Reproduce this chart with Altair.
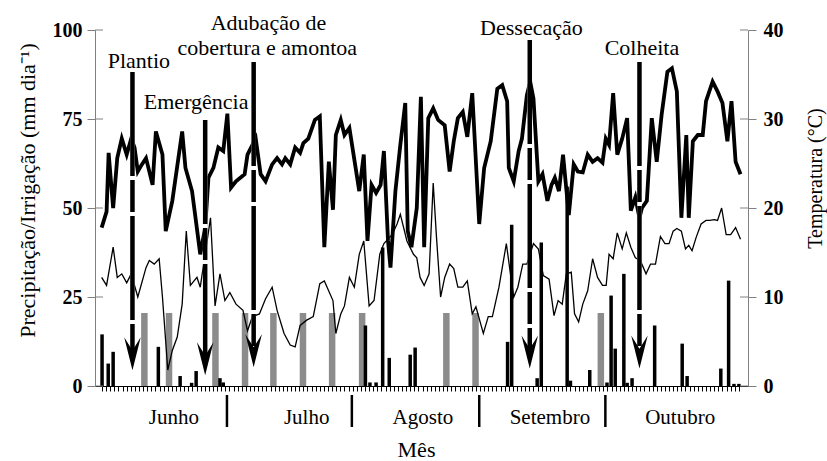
import altair as alt
import pandas as pd

# ---------------- data ----------------
tmax_day = [0.9, 2.1, 2.6, 3.7, 4.7, 5.8, 7.0, 8.1, 8.9, 9.7,
            10.7, 11.7, 13.3, 14.1, 15.7, 16.5, 18.1, 20.5, 21.3, 22.9,
            24.9, 26.1, 26.9, 28.1, 29.3, 30.5, 31.5, 32.4, 33.6, 35.7,
            36.4, 38.4, 39.6, 40.8, 42.4, 43.6, 44.8, 45.6, 46.8, 48.0,
            49.2, 50.0, 51.2, 52.8, 54.0, 55.1, 56.2, 57.2, 57.9, 59.1,
            60.0, 61.2, 63.6, 64.7, 65.6, 66.6, 67.7, 68.8, 69.6, 70.6,
            71.2, 72.4, 73.6, 74.8, 75.4, 76.3, 77.6, 78.6, 79.4, 80.4,
            81.6, 82.8, 84.4, 85.6, 86.6, 87.6, 88.8, 89.9, 91.1, 92.8,
            94.0, 95.6, 97.2, 98.4, 99.6, 100.0, 101.2, 102.4, 103.2, 104.4,
            105.2, 106.0, 107.2, 108.2, 109.4, 110.4, 111.2, 112.2, 113.2, 114.6,
            115.8, 116.8, 118.0, 119.2, 120.4, 121.6, 122.8, 123.6, 124.4, 125.4,
            126.4, 127.6, 128.8, 129.7, 130.8, 131.8, 132.4, 133.6, 134.8, 136.0,
            137.2, 138.6, 139.7, 140.9, 142.0, 143.2, 143.8, 144.8, 146.0, 147.2,
            148.0, 149.6, 150.8, 152.0, 153.2, 154.2, 155.2, 156.4]
tmax_c = [17.8, 19.6, 26.2, 20.0, 25.6, 27.8, 26.0, 27.8, 26.8, 24.1,
          24.9, 25.6, 22.6, 28.6, 26.0, 17.4, 20.8, 28.6, 24.5, 21.9,
          14.8, 17.8, 23.4, 24.5, 26.8, 26.4, 30.6, 22.3, 23.0, 23.8,
          26.0, 27.8, 23.8, 23.0, 24.9, 25.6, 24.9, 25.6, 24.9, 26.8,
          26.2, 27.3, 27.8, 29.9, 30.3, 15.6, 25.2, 19.8, 28.2, 29.9,
          28.2, 29.0, 21.9, 26.0, 16.3, 22.6, 21.7, 22.6, 26.4, 16.3,
          13.3, 21.9, 27.1, 31.8, 17.4, 15.6, 20.0, 32.5, 15.6, 30.1,
          31.2, 29.9, 29.3, 24.1, 27.5, 30.1, 30.8, 28.0, 32.9, 18.2,
          24.5, 27.5, 33.4, 33.8, 32.0, 24.5, 23.0, 26.4, 27.8, 32.7,
          34.2, 32.3, 23.0, 23.8, 20.8, 22.6, 23.4, 21.9, 26.0, 19.2,
          24.9, 24.1, 24.0, 26.0, 25.2, 25.6, 25.1, 27.8, 27.1, 32.9,
          26.0, 27.8, 30.1, 19.7, 21.2, 18.9, 20.0, 20.8, 30.1, 25.2,
          30.5, 35.3, 35.7, 33.1, 18.9, 28.2, 18.9, 27.5, 28.2, 28.2,
          32.0, 34.2, 33.1, 31.8, 27.5, 32.0, 25.2, 23.8]

tmin_day = [0.9, 2.1, 3.7, 4.7, 5.8, 7.0, 8.1, 9.7, 11.7, 12.5,
            13.7, 14.9, 15.7, 17.0, 18.1, 19.3, 20.5, 21.5, 22.5, 24.1,
            24.9, 27.4, 28.5, 29.7, 30.9, 32.1, 33.6, 35.3, 36.4, 37.6,
            39.3, 40.8, 42.4, 43.6, 45.3, 46.8, 48.0, 49.2, 50.8, 52.4,
            54.0, 55.1, 57.2, 57.9, 59.1, 60.0, 61.2, 62.4, 63.6, 64.7,
            66.0, 67.2, 68.6, 69.6, 71.6, 72.8, 73.6, 75.2, 76.8, 77.6,
            78.4, 79.4, 80.6, 81.6, 82.4, 83.4, 84.4, 85.6, 86.6, 87.6,
            88.8, 89.9, 91.1, 92.0, 93.8, 95.0, 96.0, 97.6, 99.4, 100.4,
            101.2, 102.2, 103.4, 104.4, 106.0, 107.2, 108.4, 109.8, 111.0, 112.0,
            113.0, 114.0, 115.2, 116.0, 117.0, 118.0, 119.2, 120.4, 121.6, 122.8,
            123.7, 124.4, 125.4, 126.4, 127.6, 128.6, 129.7, 130.8, 132.0, 133.4,
            134.5, 135.7, 136.9, 138.0, 139.0, 140.0, 140.9, 142.0, 143.0, 143.8,
            144.6, 145.6, 146.8, 148.0, 148.9, 150.0, 150.8, 151.8, 152.9, 154.0,
            155.2, 156.4]
tmin_c = [12.2, 11.3, 15.6, 12.2, 12.6, 11.6, 12.6, 10.0, 13.3, 14.1,
          13.7, 14.3, 10.0, 1.8, 4.0, 5.5, 9.2, 17.4, 11.3, 12.2,
          11.1, 18.9, 9.0, 12.6, 9.6, 10.5, 9.2, 8.5, 6.2, 7.8,
          8.1, 9.8, 11.1, 8.5, 5.9, 4.6, 4.4, 6.8, 7.4, 7.8,
          11.5, 11.8, 9.6, 5.9, 8.1, 9.0, 12.2, 11.1, 14.8, 16.3,
          9.0, 9.6, 14.8, 16.0, 17.0, 18.2, 19.3, 16.3, 14.8, 14.4,
          12.2, 11.3, 12.6, 22.8, 16.7, 10.0, 12.2, 13.7, 13.2, 11.1,
          11.1, 11.8, 8.1, 8.9, 5.9, 7.8, 7.8, 11.1, 16.0, 12.6,
          10.0, 11.1, 13.7, 13.7, 16.0, 15.4, 12.4, 12.0, 7.9, 9.6,
          9.2, 12.6, 12.8, 8.1, 7.2, 9.2, 10.7, 14.3, 12.2, 11.3,
          11.3, 14.8, 14.3, 17.2, 15.4, 17.2, 15.6, 14.4, 14.1, 12.6,
          13.7, 13.7, 16.8, 16.0, 16.0, 17.4, 17.7, 17.4, 15.4, 15.8,
          15.2, 16.7, 18.2, 18.6, 18.6, 18.7, 18.6, 20.0, 17.0, 17.0,
          17.8, 16.5]

rain_day = [1.0, 2.5, 3.7, 14.7, 20.0, 22.8, 23.9, 29.7, 30.5, 65.1,
            66.2, 67.7, 69.3, 70.9, 76.0, 77.2, 99.7, 100.7, 106.9, 107.9,
            114.2, 115.0, 119.7, 123.9, 124.9, 125.9, 128.0, 128.8, 130.0, 135.5,
            142.2, 143.4, 151.6, 153.5, 154.8, 156.0]
rain_mm = [14.5, 6.3, 9.6, 11.0, 2.8, 0.9, 4.2, 2.2, 1.0, 17.0,
           1.0, 1.0, 38.9, 7.9, 8.8, 10.8, 12.4, 45.3, 2.2, 40.3,
           56.0, 1.5, 4.5, 1.0, 25.4, 10.5, 31.5, 0.9, 2.2, 17.0,
           11.9, 2.8, 4.9, 29.6, 0.6, 0.6]

irr_day = [11.3, 17.3, 28.6, 35.8, 42.7, 49.9, 57.0, 64.3, 84.8, 91.9, 122.4]
irr_mm = [20.5, 20.5, 20.5, 20.5, 20.5, 20.5, 20.5, 20.5, 20.5, 20.5, 20.5]

event_day = [8.4, 26.1, 37.9, 105.1, 131.8]
event_top = [88.2, 74.7, 91.0, 97.2, 91.0]
event_tip = [4.4, 3.0, 5.3, 4.9, 4.9]

label_text = ["Plantio", "Emergência", "Adubação de", "cobertura e amontoa",
              "Dessecação", "Colheita"]
label_day = [9.95, 23.9, 41.5, 41.2, 105.5, 132.4]
label_val = [89.3, 77.7, 100.0, 93.0, 98.6, 93.0]

month_names = ["Junho", "Julho", "Agosto", "Setembro", "Outubro"]
month_center = [18.5, 50.8, 79.1, 110.0, 141.7]
month_bounds = [31.4, 61.8, 92.8, 123.5]

precip_ticks = [0, 25, 50, 75, 100]
temp_ticks = [0, 10, 20, 30, 40]
day_ticks = list(range(1, 157))

# ---------------- chart ----------------
W, H = 653, 356
FONT = "Liberation Serif"
AXGRAY = "#808080"

xs = alt.Scale(domain=[0.5, 157], nice=False, zero=False)
ys_p = alt.Scale(domain=[0, 100], nice=False)
ys_t = alt.Scale(domain=[0, 40], nice=False)

df_rain = pd.DataFrame({"day": rain_day, "mm": rain_mm})
df_irr = pd.DataFrame({"day": irr_day, "mm": irr_mm})
df_tmax = pd.DataFrame({"day": tmax_day, "t": tmax_c})
df_tmin = pd.DataFrame({"day": tmin_day, "t": tmin_c})
df_ev = pd.DataFrame({"day": event_day, "top": event_top, "tip": event_tip})
df_lab = pd.DataFrame({"day": label_day, "val": label_val, "label": label_text})
df_mon = pd.DataFrame({"day": month_center, "name": month_names})
df_bnd = pd.DataFrame({"day": month_bounds})
df_pt = pd.DataFrame({"v": precip_ticks})
df_tt = pd.DataFrame({"v": temp_ticks})

x_axis = alt.Axis(values=day_ticks, labels=False, tickSize=5, tickColor="black",
                  tickWidth=1, domainColor="black", domainWidth=1.2, grid=False,
                  title="Mês", titleFont=FONT, titleFontSize=22, titleFontWeight="normal",
                  titleColor="black", titleX=321, titleY=70, titleBaseline="alphabetic",
                  titleAlign="center")

left_axis = alt.Axis(orient="left", values=precip_ticks, grid=False, tickSize=8,
                     tickColor=AXGRAY, domainColor=AXGRAY, labelFont=FONT,
                     labelFontSize=20, labelFontWeight="bold", labelColor="black",
                     labelPadding=5, title="Precipitação/Irrigação (mm dia⁻¹)",
                     titleFont=FONT, titleFontSize=22, titleFontWeight="normal",
                     titleColor="black", titleAngle=270, titleX=-61, titleY=160,
                     titleBaseline="alphabetic", titleAlign="center")

right_axis = alt.Axis(orient="right", values=temp_ticks, grid=False, tickSize=8,
                      tickColor=AXGRAY, domainColor=AXGRAY, labelFont=FONT,
                      labelFontSize=20, labelFontWeight="bold", labelColor="black",
                      labelPadding=7, title="Temperatura (°C)", titleFont=FONT,
                      titleFontSize=20, titleFontWeight="normal", titleColor="black",
                      titleAngle=270, titleX=73, titleY=148, titleBaseline="alphabetic",
                      titleAlign="center")

# identical x axis definition in every layer so the shared axis merges cleanly
X = alt.X("day:Q", scale=xs, axis=x_axis)

irr = alt.Chart(df_irr).mark_bar(size=6.5, color="#8c8c8c").encode(
    x=X,
    y=alt.Y("mm:Q", scale=ys_p, axis=None),
)
rain = alt.Chart(df_rain).mark_bar(size=3.5, color="black").encode(
    x=X,
    y=alt.Y("mm:Q", scale=ys_p, axis=left_axis),
)
inner_left = alt.Chart(df_pt).mark_rule(color=AXGRAY, strokeWidth=1).encode(
    y=alt.Y("v:Q", scale=ys_p, axis=None),
    x=alt.value(0), x2=alt.value(8),
)
seps = alt.Chart(df_bnd).mark_rule(color="black", strokeWidth=2.5).encode(
    x=X,
    y=alt.value(365), y2=alt.value(397),
)
months = alt.Chart(df_mon).mark_text(font=FONT, fontSize=21, color="black",
                                      baseline="alphabetic", align="center").encode(
    x=X,
    y=alt.value(394),
    text="name:N",
)
tmax = alt.Chart(df_tmax).mark_line(color="black", strokeWidth=3.8).encode(
    x=X,
    y=alt.Y("t:Q", scale=ys_t, axis=right_axis),
)
tmin = alt.Chart(df_tmin).mark_line(color="black", strokeWidth=1.3).encode(
    x=X,
    y=alt.Y("t:Q", scale=ys_t, axis=None),
)
inner_right = alt.Chart(df_tt).mark_rule(color=AXGRAY, strokeWidth=1).encode(
    y=alt.Y("v:Q", scale=ys_t, axis=None),
    x=alt.value(W - 8), x2=alt.value(W),
)
shaft_bg = alt.Chart(df_ev).mark_rule(color="white", strokeWidth=4.5, y2Offset=-15).encode(
    x=X,
    y=alt.Y("top:Q", scale=ys_p, axis=None),
    y2="tip:Q",
)
shaft = alt.Chart(df_ev).mark_rule(color="black", strokeWidth=4.5, y2Offset=-15,
                                   strokeDash=[104, 4, 32, 4], strokeCap="butt").encode(
    x=X,
    y=alt.Y("top:Q", scale=ys_p, axis=None),
    y2="tip:Q",
)
head = alt.Chart(df_ev).mark_point(shape="M0,0L-0.5,-2L0,-1.2L0.5,-2Z", size=1089,
                                   filled=True, color="black", opacity=1,
                                   strokeWidth=0).encode(
    x=X,
    y=alt.Y("tip:Q", scale=ys_p, axis=None),
)
labels = alt.Chart(df_lab).mark_text(font=FONT, fontSize=22, color="black",
                                     baseline="alphabetic", align="center").encode(
    x=X,
    y=alt.Y("val:Q", scale=ys_p, axis=None),
    text="label:N",
)

chart = alt.layer(
    irr, rain, inner_left, seps, months, tmax, tmin, inner_right,
    shaft_bg, shaft, head, labels
).resolve_scale(
    y="independent"
).properties(
    width=W, height=H,
    autosize=alt.AutoSizeParams(type="none"),
    padding={"left": 95, "top": 30, "right": 79, "bottom": 75},
    background="white",
).configure_view(stroke=None)

chart.save("out.html", embed_options={"renderer": "svg", "actions": False})
